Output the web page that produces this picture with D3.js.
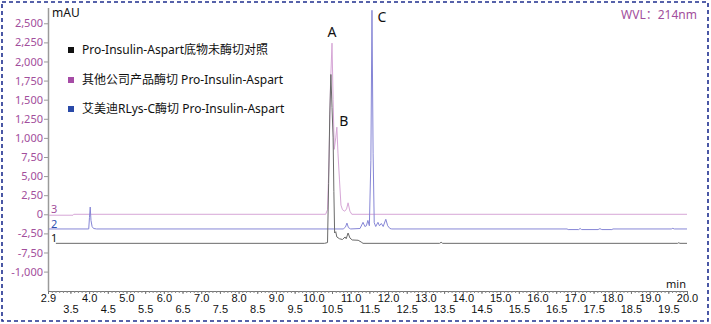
<!DOCTYPE html>
<html>
<head>
<meta charset="utf-8">
<script src="https://cdn.jsdelivr.net/npm/d3@7"></script>
<style>
  html, body { margin: 0; padding: 0; background: #fff; }
  svg { display: block; font-family: "Noto Sans", "Noto Sans CJK SC", sans-serif; }
</style>
</head>
<body>
<svg id="chart" width="711" height="324"></svg>
<script>
// ---- data ----------------------------------------------------------
const timeDomain = [2.9, 20.0];          // retention time, min
const signalDomain = [-1000, 2700];      // mAU

const yTickValues = [2500, 2250, 2000, 1750, 1500, 1250, 1000, 750, 500, 250, 0, -250, -500, -750];
const yTickLabels = ["2,500", "2,250", "2,000", "1,750", "1,500", "1,250", "1,000", "7,50", "5,00", "2,50", "0", "-2,50", "-7,50", "-1,000"];

const xTickLabels = ["2.9", "3.5", "4.0", "4.5", "5.0", "5.5", "6.0", "6.5", "7.0", "7.5", "8.0", "8.5",
  "9.0", "9.5", "10.0", "10.5", "11.0", "11.5", "12.0", "12.5", "13.0", "13.5", "14.0", "14.5",
  "15.0", "15.5", "16.0", "16.5", "17.0", "17.5", "18.0", "18.5", "19.0", "19.5", "20.0"];

const seriesNames = [
  "Pro-Insulin-Aspart底物未酶切对照",
  "其他公司产品酶切 Pro-Insulin-Aspart",
  "艾美迪RLys-C酶切 Pro-Insulin-Aspart"
];

// trace 1: undigested substrate control  [time, mAU]
const trace1 = [
  [3.11, -380], [10.30, -380], [10.38, -370], [10.41, 400], [10.44, 1300], [10.47, 1830],
  [10.50, 1400], [10.53, 1000], [10.55, 300], [10.57, -245], [10.60, -228], [10.63, -297],
  [10.70, -320], [10.78, -330], [10.85, -297], [10.88, -320], [10.93, -245], [10.98, -310],
  [11.04, -336], [11.20, -340], [11.28, -363], [11.33, -380], [13.38, -380], [13.42, -366],
  [13.46, -380], [19.75, -380], [19.78, -372], [19.81, -380], [20.0, -380]
];

// trace 2: RLys-C digest
const trace2 = [
  [2.9, -192], [3.99, -192], [4.01, -40], [4.03, 95], [4.05, -80], [4.08, -160], [4.12, -186],
  [4.20, -192], [10.80, -192], [10.86, -168], [10.90, -115], [10.94, -175], [11.00, -192],
  [11.25, -186], [11.33, -105], [11.38, -160], [11.42, -150], [11.46, -80], [11.50, -150],
  [11.54, 700], [11.57, 2670], [11.60, 800], [11.63, -110], [11.67, -160], [11.73, -105],
  [11.77, -150], [11.82, -120], [11.87, -160], [11.94, -65], [11.99, -150], [12.05, -186],
  [12.10, -192], [16.79, -192], [16.82, -200], [17.10, -200], [17.14, -186], [17.18, -200],
  [17.62, -200], [17.67, -188], [17.72, -200], [17.99, -200], [18.02, -192], [19.58, -192],
  [19.62, -184], [19.66, -192], [20.0, -192]
];

// trace 3: other supplier's enzyme digest
const trace3 = [
  [2.9, -12], [3.57, -12], [3.59, 0], [10.33, 0], [10.38, 60], [10.42, 700], [10.46, 1700],
  [10.50, 2240], [10.53, 1500], [10.56, 850], [10.60, 1000], [10.63, 1140], [10.66, 800],
  [10.70, 450], [10.74, 120], [10.78, 60], [10.84, 40], [10.89, 70], [10.93, 150],
  [10.98, 40], [11.03, 0], [20.0, 0]
];

const peakLabels = ["A", "B", "C"];
const peakTimes = [10.50, 10.63, 11.57];
const peakHeights = [2240, 1140, 2670];

// ---- layout --------------------------------------------------------
const svg = d3.select("#chart");
const x = d3.scaleLinear().domain(timeDomain).range([48, 687]);
const y = d3.scaleLinear().domain(signalDomain).range([290.7, 8]);

const purpleText = "#a24e9c";

// dashed outer frame
svg.append("rect")
  .attr("x", 2).attr("y", 2).attr("width", 706).attr("height", 319)
  .attr("fill", "none").attr("stroke", "#1f2f8f").attr("stroke-width", 1.6)
  .attr("stroke-dasharray", "4,3");

// clip for traces
svg.append("clipPath").attr("id", "plot-clip")
  .append("rect").attr("x", 49).attr("y", 4).attr("width", 640).attr("height", 287);

// y axis
const yAxis = svg.append("g").attr("transform", "translate(48,0)")
  .call(d3.axisLeft(y).tickValues(yTickValues).tickFormat((d, i) => yTickLabels[i])
    .tickSize(4).tickSizeOuter(0).tickPadding(1));
yAxis.select(".domain").attr("stroke", "#9a9a9a").attr("stroke-width", 1.5)
  .attr("d", `M0.5,${y(2700)}V291`);
yAxis.selectAll(".tick line").attr("stroke", "#9a9a9a");
yAxis.selectAll(".tick text").attr("fill", purpleText).style("font-size", "11px")
  .style("font-family", "'Noto Sans', sans-serif");

// x axis: minor ticks every 0.1 min
const minorTicks = d3.range(29, 201).map(v => v / 10);
const xMinor = svg.append("g").attr("transform", "translate(0,291)")
  .call(d3.axisBottom(x).tickValues(minorTicks).tickFormat("").tickSize(2).tickSizeOuter(0));
xMinor.select(".domain").attr("stroke", "#777").attr("stroke-width", 1.2);
xMinor.selectAll(".tick line").attr("stroke", "#888");

// x axis: labelled ticks, alternating rows
const xTickValues = xTickLabels.map(Number);
const xMajor = svg.append("g").attr("transform", "translate(0,291)")
  .call(d3.axisBottom(x).tickValues(xTickValues).tickFormat((d, i) => xTickLabels[i])
    .tickSize(3).tickSizeOuter(0));
xMajor.select(".domain").remove();
xMajor.selectAll(".tick line").attr("stroke", "#777");
xMajor.selectAll(".tick text")
  .attr("fill", "#111").style("font-size", "11px")
  .attr("y", (d, i) => (i % 2 === 0 ? 3 : 14))
  .attr("dy", "0.71em");

// axis unit labels
svg.append("text").attr("x", 52).attr("y", 17).text("mAU")
  .attr("fill", "#111").style("font-size", "12px");
svg.append("text").attr("x", 686).attr("y", 288).attr("text-anchor", "end").text("min")
  .attr("fill", "#111").style("font-size", "11px");
svg.append("text").attr("x", 697).attr("y", 19).attr("text-anchor", "end").text("WVL：214nm")
  .attr("fill", purpleText).style("font-size", "12px");

// traces
const line = d3.line().x(d => x(d[0])).y(d => y(d[1]));
const traces = [
  { data: trace3, color: "#d6a6d6" },
  { data: trace2, color: "#8686d6" },
  { data: trace1, color: "#6a6a6a" }
];
const plot = svg.append("g").attr("clip-path", "url(#plot-clip)");
traces.forEach(t => {
  plot.append("path").datum(t.data).attr("d", line)
    .attr("fill", "none").attr("stroke", t.color).attr("stroke-width", 1)
    .attr("stroke-linejoin", "round");
});

// trace numbers at the left end
const traceNumbers = [
  { label: "3", value: 0, color: "#a24e9c" },
  { label: "2", value: -192, color: "#2f4fb0" },
  { label: "1", value: -380, color: "#111" }
];
traceNumbers.forEach(t => {
  svg.append("text").attr("x", 51).attr("y", y(t.value) - 1).text(t.label)
    .attr("fill", t.color).style("font-size", "11px");
});

// peak letters: A above its apex, B and C beside their apexes
const peakOffsets = [[0, -6], [7, -1], [10, 12]];
peakLabels.forEach((p, i) => {
  svg.append("text")
    .attr("x", x(peakTimes[i]) + peakOffsets[i][0])
    .attr("y", y(peakHeights[i]) + peakOffsets[i][1])
    .attr("text-anchor", "middle").text(p)
    .attr("fill", "#111").style("font-size", "14px");
});

// legend
const legendColors = ["#111111", "#a64ca6", "#2a4aa8"];
const legendY = [50, 80, 109];
seriesNames.forEach((name, i) => {
  svg.append("rect").attr("x", 68).attr("y", legendY[i] - 3).attr("width", 6).attr("height", 6)
    .attr("fill", legendColors[i]);
  svg.append("text").attr("x", 82).attr("y", legendY[i]).attr("dy", "0.36em").text(name)
    .attr("fill", "#111").style("font-size", "12px");
});
</script>
</body>
</html>
